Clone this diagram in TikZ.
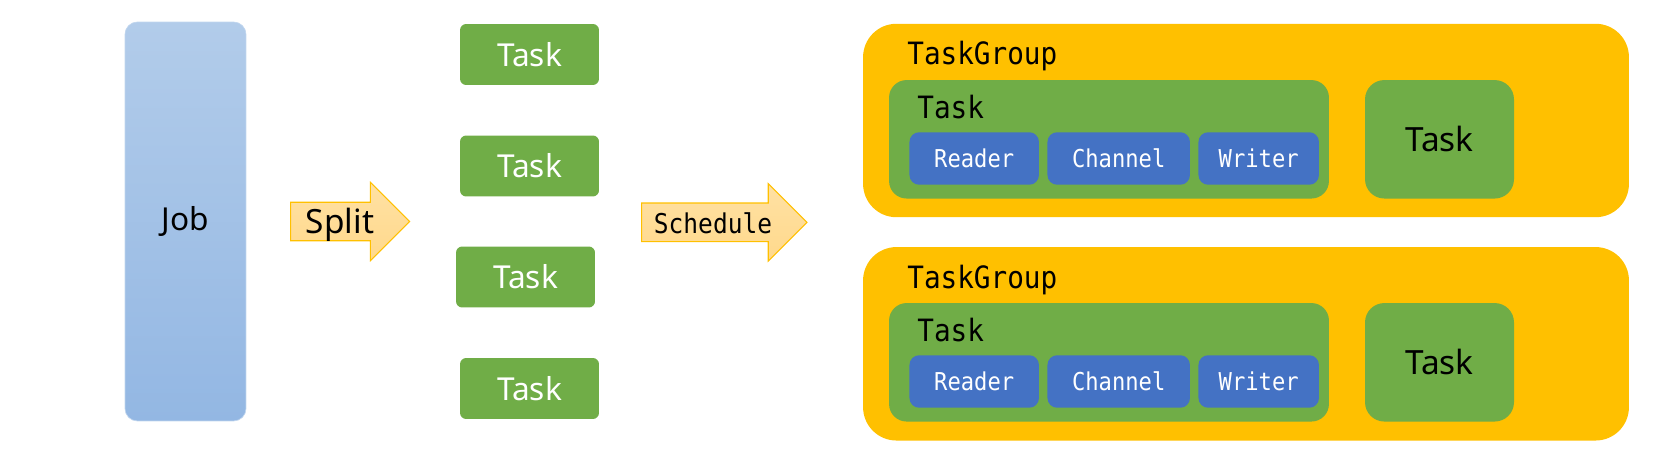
\documentclass[tikz,border=0pt]{standalone}
\usepackage{fontspec}
\setmainfont{Noto Sans}
\newfontfamily\monofont[FakeStretch=0.9]{DejaVu Sans Mono}
\usepackage{tikz}
\usetikzlibrary{shapes.arrows}

\definecolor{jobtop}{HTML}{B2CCEA}
\definecolor{jobbottom}{HTML}{93B7E3}
\definecolor{taskgreen}{HTML}{70AD47}
\definecolor{groupgold}{HTML}{FFC000}
\definecolor{partblue}{HTML}{4472C4}
\definecolor{arrowfill}{HTML}{FFD98C}

\begin{document}
\begin{tikzpicture}[x=0.02cm, y=-0.02cm,
        jobbox/.style={rectangle, rounded corners=7pt, draw=jobtop!80!white, line width=0.4pt,
            top color=jobtop, bottom color=jobbottom, inner sep=0pt,
            minimum width=2.42cm, minimum height=7.98cm,
            font=\fontsize{18}{20}\selectfont},
        taskbox/.style={rectangle, rounded corners=3.5pt, fill=taskgreen, text=white, inner sep=0pt,
            minimum width=2.78cm, minimum height=1.22cm,
            font=\fontsize{18}{20}\selectfont},
        blockarrow/.style={single arrow, draw=groupgold, line width=0.6pt,
            top color=arrowfill!80!white, bottom color=arrowfill, inner xsep=0pt, inner ysep=0.375cm,
            single arrow tip angle=90, anchor=tail},
        groupbox/.style={rectangle, rounded corners=19pt, fill=groupgold, inner sep=0pt,
            minimum width=15.32cm, minimum height=3.87cm},
        innertask/.style={rectangle, rounded corners=10pt, fill=taskgreen, inner sep=0pt,
            minimum width=8.8cm, minimum height=2.37cm},
        sidetask/.style={rectangle, rounded corners=11pt, fill=taskgreen, inner sep=0pt,
            minimum width=2.98cm, minimum height=2.37cm,
            font=\fontsize{19}{21}\selectfont},
        partbox/.style={rectangle, rounded corners=5.5pt, fill=partblue, text=white, inner sep=0pt,
            minimum height=1.05cm, font=\monofont\fontsize{14}{16}\selectfont},
        monolabel/.style={anchor=base west, inner sep=0pt, font=\monofont\fontsize{17.5}{20}\selectfont}]
        \useasboundingbox (0,0) rectangle (1680,462);

        % Job and split
        \node[jobbox] (job) at (185.5, 221.5) {Job};
        \node[blockarrow, minimum height=2.38cm,
            single arrow head extend=0.397cm] (split) at (290, 221.5) {};
        \node[anchor=base, inner sep=0pt, font=\fontsize{19}{21}\selectfont] (splittext) at (340, 234) {Split};

        % Tasks
        \node[taskbox] (t1) at (529.5, 54.5) {Task};
        \node[taskbox] (t2) at (529.5, 166) {Task};
        \node[taskbox] (t3) at (525.5, 277) {Task};
        \node[taskbox] (t4) at (529.5, 388.5) {Task};

        % Schedule
        \node[blockarrow, minimum height=3.31cm,
            single arrow head extend=0.39cm] (schedule) at (641, 222.3) {};
        \node[anchor=base, inner sep=0pt, font=\monofont\fontsize{15.5}{18}\selectfont] (scheduletext) at (713, 233.3) {Schedule};

        % TaskGroup 1
        \node[groupbox] (tg1) at (1246, 120.5) {};
        \node[monolabel] (tg1label) at (907, 65) {TaskGroup};
        \node[innertask] (tg1task) at (1109, 139.3) {};
        \node[monolabel] (tg1tasklabel) at (917, 118.3) {Task};
        \node[partbox, minimum width=2.59cm] (tg1reader) at (974.2, 158.5) {Reader};
        \node[partbox, minimum width=2.85cm] (tg1channel) at (1118.7, 158.5) {Channel};
        \node[partbox, minimum width=2.41cm] (tg1writer) at (1258.7, 158.5) {Writer};
        \node[sidetask] (tg1side) at (1439.5, 139.3) {Task};

        % TaskGroup 2
        \node[groupbox] (tg2) at (1246, 343.8) {};
        \node[monolabel] (tg2label) at (907, 288.2) {TaskGroup};
        \node[innertask] (tg2task) at (1109, 362.3) {};
        \node[monolabel] (tg2tasklabel) at (917, 341.6) {Task};
        \node[partbox, minimum width=2.59cm] (tg2reader) at (974.2, 381.5) {Reader};
        \node[partbox, minimum width=2.85cm] (tg2channel) at (1118.7, 381.5) {Channel};
        \node[partbox, minimum width=2.41cm] (tg2writer) at (1258.7, 381.5) {Writer};
        \node[sidetask] (tg2side) at (1439.5, 362.3) {Task};
    \end{tikzpicture}
\end{document}
